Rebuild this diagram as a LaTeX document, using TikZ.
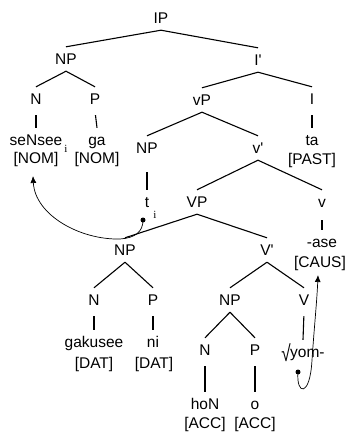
\documentclass[tikz,border=0pt]{standalone}
\usepackage{fontspec}
\usepackage{graphicx}
\setmainfont{Liberation Sans}[Ligatures=TeXOff]
\newfontfamily\subfont{Liberation Serif}
\usetikzlibrary{arrows.meta}
\begin{document}
\begin{tikzpicture}[x=1pt,y=-1pt,
  lab/.style={inner xsep=1pt, inner ysep=6.5pt, text height=11pt, text depth=0pt, font=\fontsize{15.5}{18}\selectfont},
  edge/.style={line width=1.1pt},
  unary/.style={line width=1.1pt, shorten <=4pt},
  sub/.style={inner sep=0pt, font=\subfont\fontsize{11}{12}\selectfont},
  move/.style={line width=0.7pt, -{Latex[length=7pt,width=6pt]}},
  trace/.style={circle, fill, inner sep=0pt, minimum size=5pt}]
\useasboundingbox (0,0) rectangle (349,432);
% level nodes
\node[lab] (IP) at (161,18) {IP};
\node[lab] (NP1) at (66,59) {NP};
\node[lab] (Ibar) at (258,60) {I'};
\node[lab] (N1) at (36,99) {N};
\node[lab] (P1) at (95,99) {P};
\node[lab] (vP) at (202,100) {vP};
\node[lab] (I) at (312,99) {I};
\node[lab] (seNsee) at (36,140) {seNsee};
\node[sub] (i1) at (66,149) {i};
\node[lab] (ga) at (97,140) {ga};
\node[lab] (nom1) at (36,158) {[NOM]};
\node[lab] (nom2) at (97,158) {[NOM]};
\node[lab] (ta) at (312,140) {ta};
\node[lab] (past) at (312,159) {[PAST]};
\node[lab] (NP2) at (147,148) {NP};
\node[lab] (vbar) at (258,148) {v'};
\node[lab] (t) at (147,202) {t};
\node[sub] (i2) at (155,215) {i};
\node[lab] (VP) at (197,202) {VP};
\node[lab] (v) at (322,202) {v};
\node[lab] (ase) at (322,242) {-ase};
\node[lab] (caus) at (320,262) {[CAUS]};
\node[lab] (NP3) at (125,250) {NP};
\node[lab] (Vbar) at (267,250) {V'};
\node[lab] (N3) at (94,300) {N};
\node[lab] (P3) at (153,300) {P};
\node[lab] (NP4) at (230,300) {NP};
\node[lab] (V) at (304,300) {V};
\node[lab] (gakusee) at (94,342) {gakusee};
\node[lab] (dat1) at (94,363) {[DAT]};
\node[lab] (ni) at (153,342) {ni};
\node[lab] (dat2) at (154,363) {[DAT]};
\node[lab] (N4) at (205,350) {N};
\node[lab] (P4) at (255,350) {P};
\node[lab] (yom) at (303,352) {\raisebox{-4pt}{\scalebox{1.1}[1.45]{√}}\kern-0.5pt yom-};
\node[lab] (hoN) at (205,404) {hoN};
\node[lab] (o) at (255,404) {o};
\node[lab] (acc1) at (205,423) {[ACC]};
\node[lab] (acc2) at (255,423) {[ACC]};
% branches
\draw[edge] (IP.south) -- (NP1.north);
\draw[edge] (IP.south) -- (Ibar.north);
\draw[edge] (NP1.south) -- (N1.north);
\draw[edge] (NP1.south) -- (P1.north);
\draw[edge] (Ibar.south) -- (vP.north);
\draw[edge] (Ibar.south) -- (I.north);
\draw[unary] (N1.south) -- (seNsee.north);
\draw[unary] (P1.south) -- (ga.north);
\draw[unary] (I.south) -- (ta.north);
\draw[edge] (vP.south) -- (NP2.north);
\draw[edge] (vP.south) -- (vbar.north);
\draw[unary, shorten <=12pt] (NP2.south) -- (t.north);
\draw[edge] (vbar.south) -- (VP.north);
\draw[edge] (vbar.south) -- (v.north);
\draw[unary, shorten <=6pt] (v.south) -- (ase.north);
\draw[edge] (VP.south) -- (NP3.north);
\draw[edge] (VP.south) -- (Vbar.north);
\draw[edge] (NP3.south) -- (N3.north);
\draw[edge] (NP3.south) -- (P3.north);
\draw[edge] (Vbar.south) -- (NP4.north);
\draw[edge] (Vbar.south) -- (V.north);
\draw[unary] (N3.south) -- (gakusee.north);
\draw[unary] (P3.south) -- (ni.north);
\draw[edge] (NP4.south) -- (N4.north);
\draw[edge] (NP4.south) -- (P4.north);
\draw[unary] (V.south) -- (yom.north);
\draw[unary] (N4.south) -- (hoN.north);
\draw[unary] (P4.south) -- (o.north);
% movement arrows
\node[trace] (d1) at (143,220) {};
\coordinate (e1) at (33,176);
\draw[move] (d1.center) .. controls (143,232) and (135,238) .. (120,239)
  .. controls (80,240) and (35,215) .. (e1);
\node[trace] (d2) at (298,372) {};
\coordinate (e2) at (318,275);
\draw[move] (d2.center) .. controls (296,395) and (310,398) .. (312,360)
  .. controls (314,330) and (317,300) .. (e2);
\end{tikzpicture}
\end{document}
